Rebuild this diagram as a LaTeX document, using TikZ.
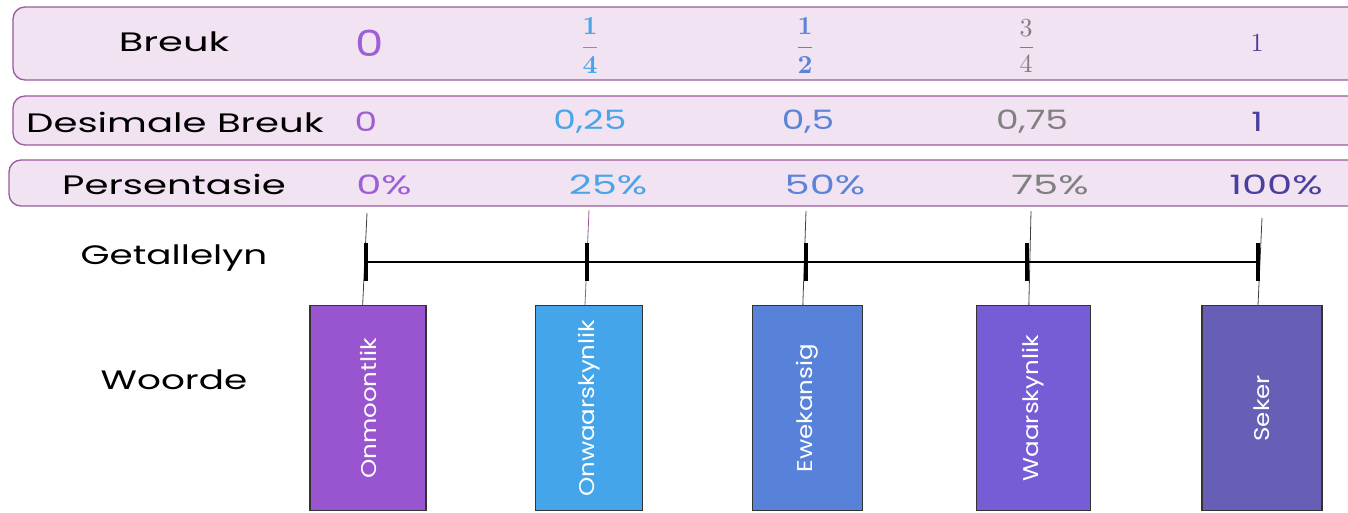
\documentclass[tikz,border=0pt]{standalone}
\usepackage{fontspec}
\setmainfont{Poppins}
\usepackage{amsmath}
\definecolor{rowfill}{HTML}{F1E3F2}
\definecolor{rowdraw}{HTML}{9A5A9C}
\definecolor{cA}{HTML}{9E5FD6}
\definecolor{cB}{HTML}{4AA5E8}
\definecolor{cC}{HTML}{5B84D8}
\definecolor{cD}{HTML}{808080}
\definecolor{cE}{HTML}{4B3F9E}
\definecolor{bA}{HTML}{9955CF}
\definecolor{bB}{HTML}{45A5EA}
\definecolor{bC}{HTML}{5882DA}
\definecolor{bD}{HTML}{765DD6}
\definecolor{bE}{HTML}{675EB5}
\newcommand{\widen}[2]{\scalebox{#1}[1]{#2}}
\tikzset{
  rowbox/.style={draw=rowdraw, fill=rowfill, line width=1pt, rounded corners=9pt},
  lbl/.style={font=\fontsize{20}{24}\selectfont, text=black},
  val/.style={font=\fontsize{20}{24}\selectfont},
  frac/.style={scale=1.95},
  word/.style={draw=black!80, line width=0.8pt, minimum width=#1, minimum height=154pt, inner sep=0pt, anchor=north},
  wtext/.style={text=white, rotate=90, font=\fontsize{16}{18}\selectfont},
  hang/.style={line width=0.6pt, draw=black!75},
  tick/.style={line width=3.5pt}
}
\begin{document}
\begin{tikzpicture}[x=0.75pt,y=-0.75pt]
\useasboundingbox (0,0) rectangle (1348,512);
% rows
\draw[rowbox] (13,7) rectangle (1380,80);
\draw[rowbox] (13,96) rectangle (1380,145);
\draw[rowbox] (9,160) rectangle (1380,206);
% labels
\node[lbl] (lbreuk) at (174,42) {\widen{1.5}{Breuk}};
\node[lbl] (ldes) at (175,122) {\widen{1.45}{Desimale Breuk}};
\node[lbl] (lpers) at (174,184) {\widen{1.45}{Persentasie}};
\node[lbl] (lgetal) at (174,258) {\widen{1.4}{Getallelyn}};
\node[lbl] (lwoorde) at (174,380) {\widen{1.4}{Woorde}};
% fractions
\node[font=\fontsize{27}{30}\selectfont, text=cA] (f0) at (370,43) {\widen{1.25}{0}};
\node[frac, text=cB] (f1) at (590,46) {$\boldsymbol{\dfrac{1}{4}}$};
\node[frac, text=cC] (f2) at (805,46) {$\boldsymbol{\dfrac{1}{2}}$};
\node[frac, text=cD] (f3) at (1026,46) {$\dfrac{3}{4}$};
\node[frac, text=cE] (f4) at (1257,43) {$1$};
% decimals
\node[val, text=cA] (d0) at (366,122) {\widen{1.35}{0}};
\node[val, text=cB] (d1) at (590,122) {\widen{1.35}{0,25}};
\node[val, text=cC] (d2) at (808,122) {\widen{1.35}{0,5}};
\node[val, text=cD] (d3) at (1032,122) {\widen{1.35}{0,75}};
\node[val, text=cE] (d4) at (1257,122) {\widen{1.35}{1}};
% percentages
\node[val, text=cA] (p0) at (384,185) {\widen{1.5}{0\%}};
\node[val, text=cB] (p1) at (608,185) {\widen{1.5}{25\%}};
\node[val, text=cC] (p2) at (825,185) {\widen{1.5}{50\%}};
\node[val, text=cD] (p3) at (1050,185) {\widen{1.5}{75\%}};
\node[val, text=cE] (p4) at (1276,185) {\widen{1.5}{100\%}};
% number line
\coordinate (n0) at (366,262);
\coordinate (n1) at (587,262);
\coordinate (n2) at (806,262);
\coordinate (n3) at (1027,262);
\coordinate (n4) at (1258,262);
% hanging threads
\coordinate (t0) at (367,213);
\coordinate (t1) at (589,210);
\coordinate (t2) at (806,211);
\coordinate (t3) at (1031,211);
\coordinate (t4) at (1262,218);
% word boxes
\node[word=87pt, fill=bA] (w0) at (368,305) {};
\node[word=80pt, fill=bB] (w1) at (589,305) {};
\node[word=82pt, fill=bC] (w2) at (807.5,305) {};
\node[word=86pt, fill=bD] (w3) at (1033.5,305) {};
\node[word=90pt, fill=bE] (w4) at (1262,305) {};
\node[wtext] at (w0.center) {\widen{1.15}{Onmoontlik}};
\node[wtext] at (w1.center) {\widen{1.15}{Onwaarskynlik}};
\node[wtext] at (w2.center) {\widen{1.15}{Ewekansig}};
\node[wtext] at (w3.center) {\widen{1.15}{Waarskynlik}};
\node[wtext] at (w4.center) {\widen{1.15}{Seker}};
\draw[hang] (t0) -- ([xshift=-4]w0.north);
\draw[hang, draw=rowdraw] (t1) -- ([xshift=-3]w1.north);
\draw[hang] (t2) -- ([xshift=-3.5]w2.north);
\draw[hang] (t3) -- ([xshift=-3.5]w3.north);
\draw[hang] (t4) -- ([xshift=-3]w4.north);
\draw[line width=2.2pt] (n0) -- (n4);
\foreach \n in {n0,n1,n2,n3,n4}
  \draw[tick] ([yshift=-14]\n) -- ([yshift=14]\n);
\end{tikzpicture}
\end{document}
